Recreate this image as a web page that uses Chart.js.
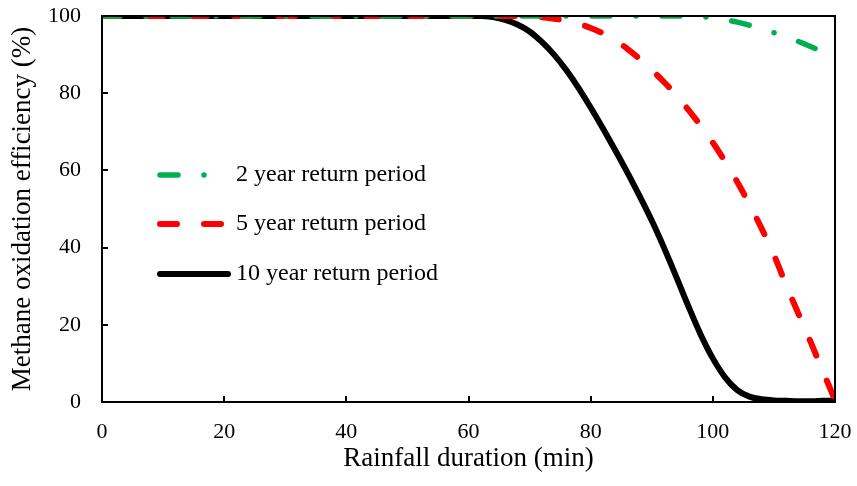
<!DOCTYPE html>
<html>
<head>
<meta charset="utf-8">
<script src="https://cdn.jsdelivr.net/npm/chart.js@4.4.1/dist/chart.umd.min.js"></script>
<style>
  html, body { margin: 0; padding: 0; background: #fff; }
  #wrap { width: 857px; height: 486px; position: relative; }
</style>
</head>
<body>
<div id="wrap"><canvas id="chart"></canvas></div>
<script>
// Rainfall duration (min)
const durations = [0, 10, 20, 30, 40, 50, 60,
  62, 64, 66, 68, 70, 72, 74, 76, 78, 80, 82, 84, 86, 88, 90,
  92, 94, 96, 98, 100, 102, 104, 106, 108, 110, 112, 114, 116, 118, 120];

// Methane oxidation efficiency (%) for each return period
const eff2yr = [100, 100, 100, 100, 100, 100, 100,
  100, 100, 100, 100, 100, 100, 100, 100, 100, 100, 100, 100, 100, 100, 100,
  100, 100, 100, 99.9, 99.5, 99, 98.4, 97.6, 96.7, 95.7, 94.6, 93.4, 92.1, 90.7, 89.3];

const eff5yr = [100, 100, 100, 100, 100, 100, 100,
  100, 100, 100, 100, 99.9, 99.7, 99.3, 98.8, 98.0, 96.9, 95.5, 93.7, 91.5, 88.9, 86,
  82.9, 79.5, 75.7, 71.6, 67.2, 62.3, 57, 51.2, 44.9, 38.1, 30.3, 22.9, 15.6, 8, 0.5];

const eff10yr = [100, 100, 100, 100, 100, 100, 100,
  100, 99.7, 99, 97.8, 96, 93.3, 90, 86, 81.4, 76.3, 70.9, 65.3, 59.5, 53.4, 47,
  40, 32.5, 24.8, 17.5, 11.3, 6.4, 3.1, 1.4, 0.7, 0.4, 0.3, 0.2, 0.2, 0.3, 0.4];

const seriesLabels = ['2 year return period', '5 year return period', '10 year return period'];
const xTicks = [0, 20, 40, 60, 80, 100, 120];
const yTicks = [0, 20, 40, 60, 80, 100];

const FONT = 'Liberation Serif, Times New Roman, serif';

function toPoints(ys) {
  return durations.map((d, i) => ({ x: d, y: ys[i] }));
}

// Frame around the plot area plus inward-pointing tick marks
const framePlugin = {
  id: 'frame',
  afterDraw(chart) {
    const { ctx, chartArea: a, scales } = chart;
    ctx.save();
    ctx.strokeStyle = '#000';
    ctx.lineWidth = 2;
    ctx.strokeRect(a.left, a.top, a.right - a.left, a.bottom - a.top);
    ctx.beginPath();
    xTicks.forEach(v => {
      const px = Math.round(scales.x.getPixelForValue(v));
      ctx.moveTo(px, a.bottom);
      ctx.lineTo(px, a.bottom - 6);
    });
    yTicks.forEach(v => {
      const py = Math.round(scales.y.getPixelForValue(v));
      ctx.moveTo(a.left, py);
      ctx.lineTo(a.left + 6, py);
    });
    ctx.stroke();
    ctx.restore();
  }
};

// Legend drawn inside the plot area, one row per series
const insideLegend = {
  id: 'insideLegend',
  afterDatasetsDraw(chart) {
    const { ctx, chartArea: a } = chart;
    const rows = [175, 224, 274];
    ctx.save();
    chart.data.datasets.forEach((ds, i) => {
      const y = rows[i];
      const x0 = a.left + 58;
      const x1 = a.left + 126;
      ctx.beginPath();
      ctx.setLineDash(ds.borderDash || []);
      ctx.lineDashOffset = 0;
      ctx.lineCap = ds.borderCapStyle || 'butt';
      ctx.lineWidth = ds.borderWidth;
      ctx.strokeStyle = ds.borderColor;
      ctx.moveTo(x0, y);
      ctx.lineTo(x1, y);
      ctx.stroke();
      ctx.setLineDash([]);
      ctx.fillStyle = '#000';
      ctx.font = '24px ' + FONT;
      ctx.textBaseline = 'middle';
      ctx.textAlign = 'left';
      ctx.fillText(ds.label, a.left + 134, y);
    });
    ctx.restore();
  }
};

new Chart(document.getElementById('chart'), {
  type: 'line',
  data: {
    datasets: [
      {
        label: seriesLabels[0],
        data: toPoints(eff2yr),
        borderColor: '#00b050',
        borderWidth: 5.5,
        borderDash: [18, 26, 0, 26],
        borderCapStyle: 'round',
        pointRadius: 0,
        cubicInterpolationMode: 'monotone'
      },
      {
        label: seriesLabels[1],
        data: toPoints(eff5yr),
        borderColor: '#ff0000',
        borderWidth: 6,
        borderDash: [17, 27],
        borderCapStyle: 'round',
        pointRadius: 0,
        cubicInterpolationMode: 'monotone'
      },
      {
        label: seriesLabels[2],
        data: toPoints(eff10yr),
        borderColor: '#000000',
        borderWidth: 6,
        borderCapStyle: 'round',
        pointRadius: 0,
        cubicInterpolationMode: 'monotone'
      }
    ]
  },
  options: {
    responsive: true,
    maintainAspectRatio: false,
    animation: false,
    layout: { padding: { left: 0, top: 16, right: 22, bottom: 0 } },
    plugins: {
      legend: { display: false },
      tooltip: { enabled: false }
    },
    scales: {
      x: {
        type: 'linear',
        min: 0,
        max: 120,
        afterFit(scale) {
          scale.height = 84;
          scale.paddingLeft = 0;
          scale.paddingRight = 0;
        },
        afterBuildTicks(scale) { scale.ticks = xTicks.map(v => ({ value: v })); },
        grid: { display: false, drawTicks: false },
        border: { display: false },
        ticks: {
          color: '#000',
          padding: 17,
          maxRotation: 0,
          font: { family: FONT, size: 22 }
        },
        title: {
          display: true,
          text: 'Rainfall duration (min)',
          color: '#000',
          padding: { top: 0, bottom: 11 },
          font: { family: FONT, size: 27 }
        }
      },
      y: {
        type: 'linear',
        min: 0,
        max: 100,
        afterFit(scale) {
          scale.width = 102;
          scale.paddingTop = 0;
          scale.paddingBottom = 0;
        },
        afterBuildTicks(scale) { scale.ticks = yTicks.map(v => ({ value: v })); },
        grid: { display: false, drawTicks: false },
        border: { display: false },
        ticks: {
          color: '#000',
          padding: 21,
          font: { family: FONT, size: 22 }
        },
        title: {
          display: true,
          text: 'Methane oxidation efficiency (%)',
          color: '#000',
          padding: { top: 7, bottom: 0 },
          font: { family: FONT, size: 27 }
        }
      }
    }
  },
  plugins: [framePlugin, insideLegend]
});
</script>
</body>
</html>
